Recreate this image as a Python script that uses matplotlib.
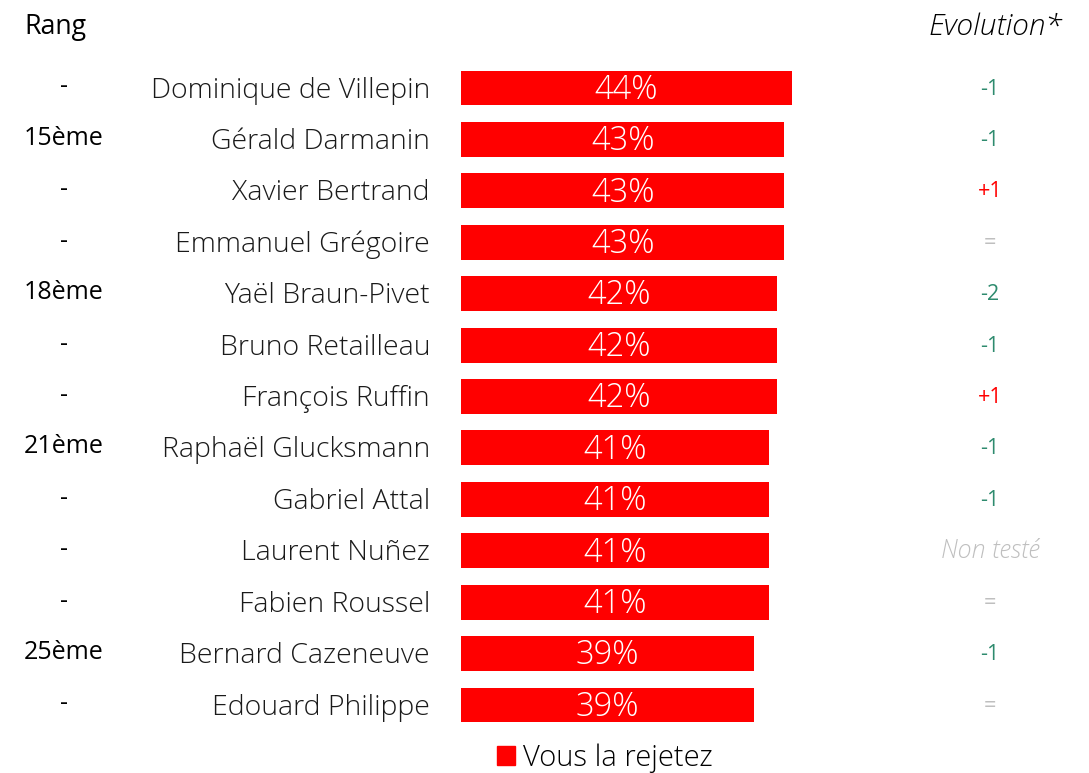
import matplotlib.pyplot as plt
from matplotlib.patches import Patch
from matplotlib.transforms import blended_transform_factory

names = ["Dominique de Villepin", "Gérald Darmanin", "Xavier Bertrand", "Emmanuel Grégoire",
         "Yaël Braun-Pivet", "Bruno Retailleau", "François Ruffin", "Raphaël Glucksmann",
         "Gabriel Attal", "Laurent Nuñez", "Fabien Roussel", "Bernard Cazeneuve", "Edouard Philippe"]
rejet = [44, 43, 43, 43, 42, 42, 42, 41, 41, 41, 41, 39, 39]
rangs = ["-", "15ème", "-", "-", "18ème", "-", "-", "21ème", "-", "-", "-", "25ème", "-"]
evolutions = ["-1", "-1", "+1", "=", "-2", "-1", "+1", "-1", "-1", "Non testé", "=", "-1", "="]

RED = "#FF0000"
GREEN = "#2E8B6E"
GREY = "#BFBFBF"
FONT = "Open Sans"

W, H = 1089, 773
fig = plt.figure(figsize=(W / 100, H / 100), dpi=100)
px_per_unit = 7.52
ax_left, ax_right = 461, 900
row_top, row_bottom = 62.3, 730.7
ax = fig.add_axes([ax_left / W, 1 - row_bottom / H, (ax_right - ax_left) / W, (row_bottom - row_top) / H])

y = list(range(len(names)))
bars = ax.barh(y, rejet, height=0.68, color=RED)
ax.set_xlim(0, (ax_right - ax_left) / px_per_unit)
ax.set_ylim(len(names) - 0.5, -0.5)
ax.axis("off")

for bar, v in zip(bars, rejet):
    ax.text(bar.get_width() / 2, bar.get_y() + bar.get_height() / 2 + 0.04, f"{v}%",
            ha="center", va="center", color="white", fontsize=23.5, family=FONT, weight="light")

trans = blended_transform_factory(fig.transFigure, ax.transData)
for i, (n, r, e) in enumerate(zip(names, rangs, evolutions)):
    ax.text(430 / W, i + 0.05, n, transform=trans, ha="right", va="center", fontsize=20.5,
            family=FONT, weight="light", color="#1a1a1a")
    ax.text(64 / W, i - 0.02, r, transform=trans, ha="center", va="center", fontsize=18,
            family=FONT, color="black")
    if e.startswith("+"):
        c, style, wt = RED, "normal", "normal"
    elif e.startswith("-"):
        c, style, wt = GREEN, "normal", "normal"
    elif e == "Non testé":
        c, style, wt = GREY, "italic", "light"
    else:
        c, style, wt = GREY, "normal", "normal"
    ax.text(990 / W, i + 0.02, e, transform=trans, ha="center", va="center",
            fontsize=15.5 if e != "Non testé" else 18, color=c, style=style,
            family=FONT, weight=wt)

fig.text(55 / W, 1 - 27 / H, "Rang", ha="center", va="center", fontsize=19.3, family=FONT)
fig.text(996 / W, 1 - 27 / H, "Evolution*", ha="center", va="center", fontsize=21.5,
         style="italic", family=FONT, weight="light")

fig.legend(handles=[Patch(color=RED, label="Vous la rejetez")], loc="center",
           bbox_to_anchor=(605 / W, 1 - 758 / H), frameon=False,
           prop={"family": FONT, "size": 21, "weight": "light"}, handlelength=0.6,
           handleheight=0.6, handletextpad=0.3, borderpad=0.1)

fig.savefig("out.png", dpi=100)
